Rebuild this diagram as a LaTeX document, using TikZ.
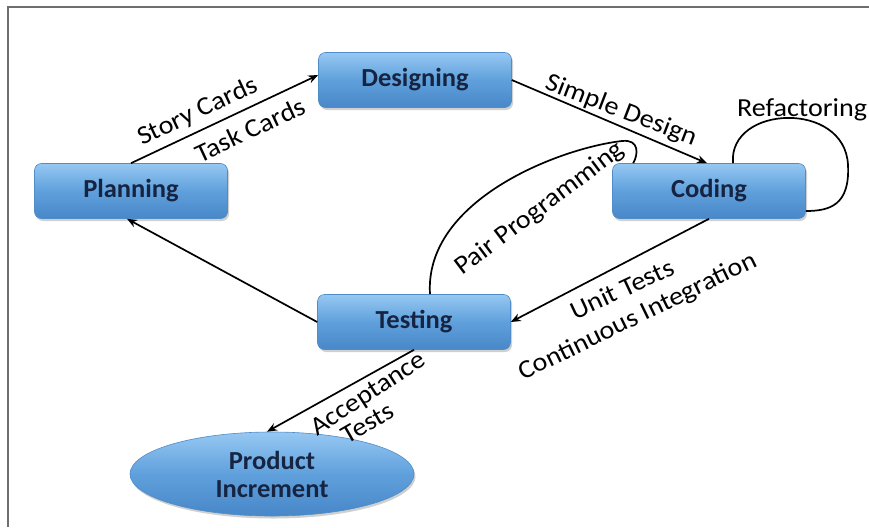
\documentclass[tikz,border=0pt]{standalone}
\usepackage{fontspec}
\setmainfont{Carlito}
\newfontfamily\boxfont{Carlito}[FakeStretch=1.02]
\newfontfamily\lblfont{Carlito}[FakeStretch=1.08]
\usetikzlibrary{arrows.meta,shadows,calc,shapes.geometric}

\definecolor{boxtop}{RGB}{150,200,242}
\definecolor{boxmid}{RGB}{95,160,220}
\definecolor{boxbot}{RGB}{72,135,200}
\definecolor{boxedge}{RGB}{80,140,200}
\definecolor{navy}{RGB}{22,36,66}
\definecolor{framegray}{RGB}{110,110,110}

\tikzset{
  phase/.style={rectangle, rounded corners=7pt, minimum width=193pt, minimum height=55pt,
    top color=boxtop, bottom color=boxbot, middle color=boxmid,
    draw=boxedge, line width=0.6pt,
    font=\boxfont\fontsize{26}{29}\selectfont\bfseries, text=navy,
    drop shadow={opacity=0.3, shadow xshift=1.5pt, shadow yshift=-2.5pt, fill=black!60}},
  result/.style={ellipse, minimum width=284pt, minimum height=84pt, inner sep=0pt,
    top color=boxtop, bottom color=boxbot, middle color=boxmid,
    draw=boxedge, line width=0.6pt, align=center,
    font=\boxfont\fontsize{26}{28}\selectfont\bfseries, text=navy,
    drop shadow={opacity=0.3, shadow xshift=1.5pt, shadow yshift=-2.5pt, fill=black!60}},
  conn/.style={draw=black, line width=1.7pt, -{Stealth[length=10pt,width=8pt]}},
  loopline/.style={draw=black, line width=1.7pt},
  lbl/.style={font=\lblfont\fontsize{26}{29}\selectfont, text=black, inner sep=0pt},
}

\begin{document}
\begin{tikzpicture}[x=1pt,y=-1pt]
  \useasboundingbox (0,0) rectangle (869,527);
  \fill[white] (0,0) rectangle (869,527);
  % frame on the top and left edges
  \draw[framegray, line width=1.5pt] (8,527) -- (8,7) -- (869,7);

  % phases
  \node[phase] (des)  at (415,80)  {Designing};
  \node[phase] (plan) at (131,191) {Planning};
  \node[phase] (cod)  at (709,191) {Coding};
  \node[phase] (tst)  at (414,322) {Testing};
  \node[result] (prod) at (272,474) {Product\\Increment};

  % cycle arrows
  \draw[conn] (plan.north) -- ($(des.west)+(0,-5)$);
  \draw[conn] (des.east) -- ($(cod.north)+(-2,0)$);
  \draw[conn] (cod.south) -- (tst.east);
  \draw[conn] (tst.west) -- ($(plan.south)+(-4,0)$);
  \draw[conn] (tst.south) -- ($(prod.north)+(-5,0)$);

  % practice loops
  \draw[loopline] ($(tst.north)+(16,0)$) .. controls (424,200) and (560,148) .. (622,141)
        .. controls (640,139) and (638,155) .. ($(cod.north west)+(21,0)$);
  \draw[loopline] ($(cod.north)+(24,0)$) .. controls (728,105) and (845,100) .. (848,165)
        .. controls (850,205) and (830,211) .. ($(cod.east)+(0,20)$);

  % labels
  \node[lbl, rotate=25]  (lsc) at (198,112) {Story Cards};
  \node[lbl, rotate=25]  (ltc) at (250,130) {Task Cards};
  \node[lbl, rotate=-21] (lsd) at (621,111) {Simple Design};
  \node[lbl]             (lrf) at (802,110) {Refactoring};
  \node[lbl, rotate=37]  (lpp) at (540,209) {Pair Programming};
  \node[lbl, rotate=25]  (lut) at (622,289) {Unit Tests};
  \node[lbl, rotate=26]  (lci) at (638,317) {Continuous Integration};
  \node[lbl, rotate=33]  (lat) at (369,395) {Acceptance};
  \node[lbl, rotate=30]  (lts) at (368,423) {Tests};
\end{tikzpicture}
\end{document}
